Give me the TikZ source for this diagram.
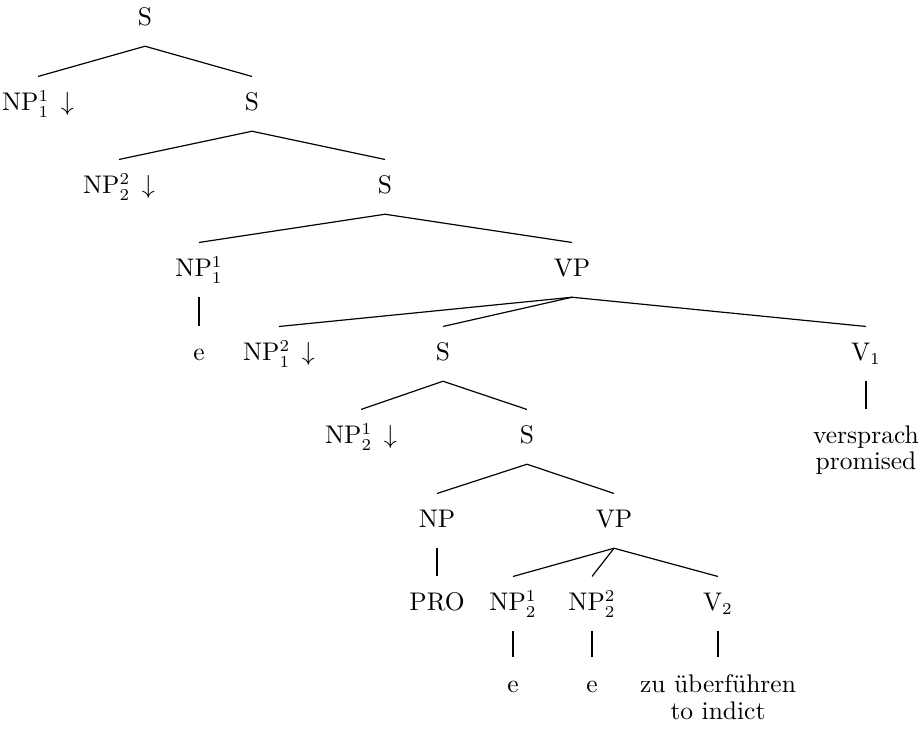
\documentclass[tikz,border=0pt]{standalone}
\begin{document}
\begin{tikzpicture}[
  x=0.42pt, y=-0.42pt,
  font=\fontsize{10.7pt}{12.8pt}\selectfont,
  cat/.style={anchor=base, text height=8pt, text depth=2pt,
              inner xsep=0pt, inner ysep=6.3pt},
  word/.style={anchor=base, inner sep=0pt},
  br/.style={line width=0.5pt}
]
  \useasboundingbox (0,0) rectangle (924,731);

  \node[cat] (s0)   at (145,26)  {S};
  \node[cat] (np1)  at (38,111)  {NP$^1_1\,\downarrow$};
  \node[cat] (s1)   at (252,111) {S};
  \node[cat] (np2)  at (119,194) {NP$^2_2\,\downarrow$};
  \node[cat] (s2)   at (385,194) {S};
  \node[cat] (np3)  at (199,277) {NP$^1_1$};
  \node[cat] (vp1)  at (572,277) {VP};
  \node[cat] (e1)   at (199,361) {e};
  \node[cat] (np4)  at (279,361) {NP$^2_1\,\downarrow$};
  \node[cat] (s3)   at (443,361) {S};
  \node[cat] (v1)   at (866,361) {V$_1$};
  \node[cat] (vers) at (866,444) {versprach};
  \node[word] (prom) at (866,470) {promised};
  \node[cat] (np5)  at (361,444) {NP$^1_2\,\downarrow$};
  \node[cat] (s4)   at (527,444) {S};
  \node[cat] (np6)  at (437,528) {NP};
  \node[cat] (vp2)  at (614,528) {VP};
  \node[cat] (pro)  at (437,611) {PRO};
  \node[cat] (np7)  at (513,611) {NP$^1_2$};
  \node[cat] (np8)  at (592,611) {NP$^2_2$};
  \node[cat] (v2)   at (718,611) {V$_2$};
  \node[cat] (e2)   at (513,692) {e};
  \node[cat] (e3)   at (592,692) {e};
  \node[cat] (zu)   at (718,692) {zu überführen};
  \node[word] (ind) at (718,719) {to indict};

  \draw[br] (np1.north) -- (s0.south) -- (s1.north);
  \draw[br] (np2.north) -- (s1.south) -- (s2.north);
  \draw[br] (np3.north) -- (s2.south) -- (vp1.north);
  \draw[br] (np3.south) -- (e1.north);
  \draw[br] (vp1.south) -- (np4.north);
  \draw[br] (vp1.south) -- (s3.north);
  \draw[br] (vp1.south) -- (v1.north);
  \draw[br] (v1.south) -- (vers.north);
  \draw[br] (np5.north) -- (s3.south) -- (s4.north);
  \draw[br] (np6.north) -- (s4.south) -- (vp2.north);
  \draw[br] (np6.south) -- (pro.north);
  \draw[br] (vp2.south) -- (np7.north);
  \draw[br] (vp2.south) -- (np8.north);
  \draw[br] (vp2.south) -- (v2.north);
  \draw[br] (np7.south) -- (e2.north);
  \draw[br] (np8.south) -- (e3.north);
  \draw[br] (v2.south) -- (zu.north);
\end{tikzpicture}
\end{document}
